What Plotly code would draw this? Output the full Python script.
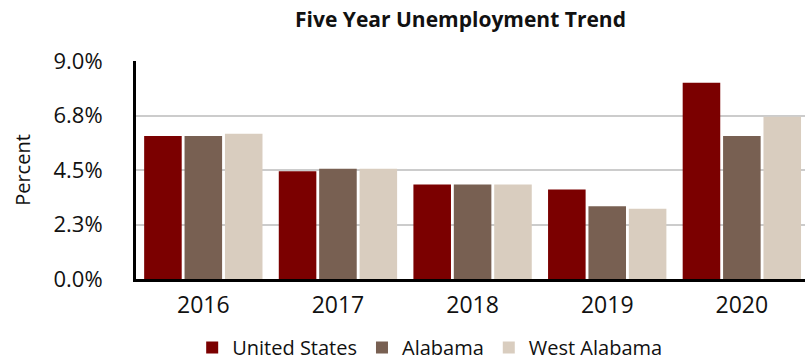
import plotly.graph_objects as go

# Unemployment rate (%) by year
years = ["2016", "2017", "2018", "2019", "2020"]
united_states = [5.9, 4.45, 3.9, 3.7, 8.1]
alabama = [5.9, 4.55, 3.9, 3.0, 5.9]
west_alabama = [6.0, 4.55, 3.9, 2.9, 6.7]

tick_vals = [0, 2.25, 4.5, 6.75, 9.0]
tick_text = ["0.0%", "2.3%", "4.5%", "6.8%", "9.0%"]

series = [
    ("United States", united_states, "#7B0000"),
    ("Alabama", alabama, "#786052"),
    ("West Alabama", west_alabama, "#D9CDBF"),
]

fig = go.Figure()
for name, vals, color in series:
    fig.add_trace(go.Bar(x=years, y=vals, name=name, marker_color=color,
                         marker_line_width=0))

font_main = "Open Sans"

fig.update_layout(
    width=805, height=362,
    margin=dict(l=136, r=0, t=61, b=83, autoexpand=False),
    paper_bgcolor="white", plot_bgcolor="white",
    barmode="group", bargap=0.1, bargroupgap=0.07,
    title=dict(text="<b>Five Year Unemployment Trend</b>",
               font=dict(family=font_main, size=21, color="#111"),
               x=460.5 / 805, xanchor="center", y=0.945, yanchor="middle"),
    font=dict(family=font_main, color="#111"),
    showlegend=True,
    legend=dict(orientation="h", x=0.439, xanchor="center", y=-0.225, yanchor="top",
                font=dict(size=20, family=font_main, color="#111"),
                itemsizing="constant", traceorder="normal"),
    xaxis=dict(range=[-0.5, 4.469], showline=True, linecolor="black", linewidth=3,
               ticks="", tickfont=dict(size=23), ticklabelstandoff=3,
               showgrid=False, fixedrange=True),
    yaxis=dict(range=[0, 9], tickvals=tick_vals, ticktext=tick_text,
               showline=True, linecolor="black", linewidth=3,
               showgrid=True, gridcolor="#CCCCCC", gridwidth=1.5,
               zeroline=False, ticks="", ticklabelstandoff=26,
               tickfont=dict(size=22),
               title=dict(text="Percent", font=dict(size=20), standoff=18)),
)

fig.write_html("out.html")
